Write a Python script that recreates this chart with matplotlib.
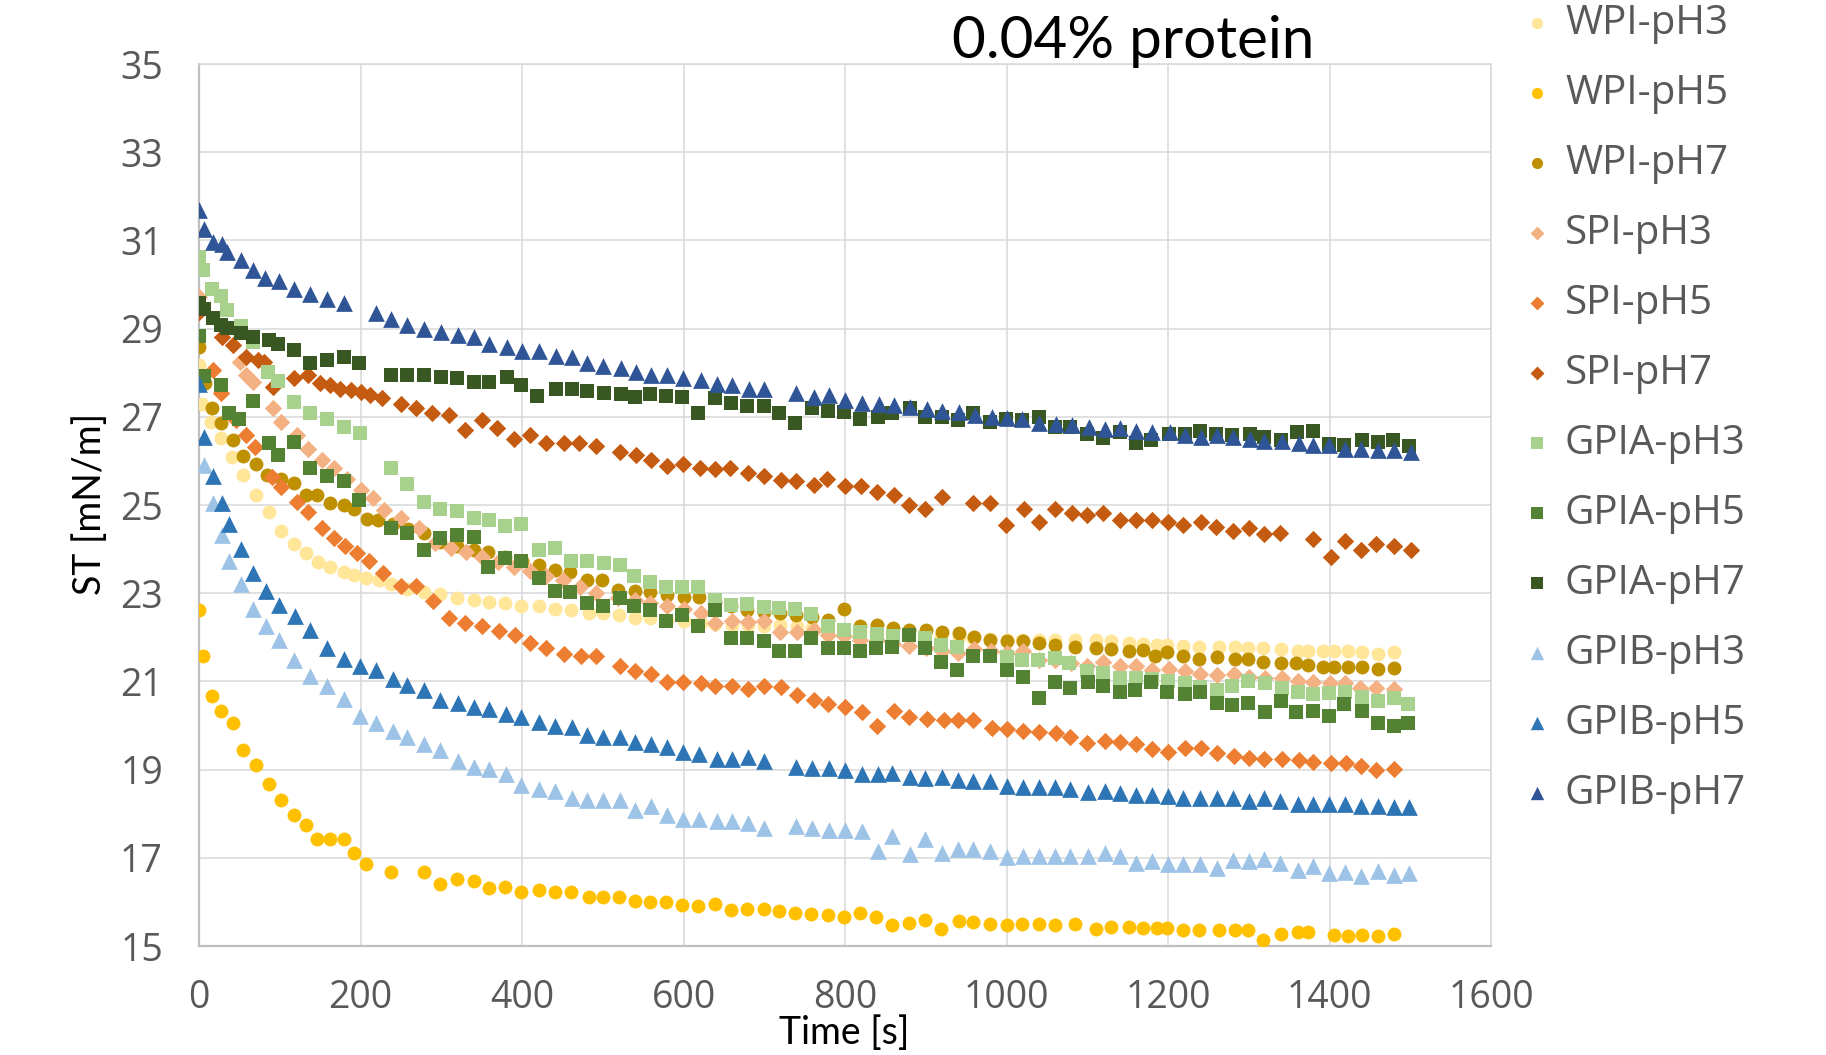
import matplotlib.pyplot as plt

plt.rcParams['font.family'] = ['Open Sans', 'DejaVu Sans']

# surface tension vs time, (time [s], ST [mN/m])
wpi_ph3 = [(0, 28.17), (4, 27.30), (15, 26.89), (27, 26.51), (41, 26.09), (55, 25.68), (71, 25.23), (87, 24.85),
           (102, 24.42), (117, 24.11), (133, 23.91), (147, 23.71), (162, 23.59), (179, 23.49), (192, 23.42),
           (207, 23.34), (223, 23.29), (238, 23.21), (258, 23.09), (279, 23.02), (299, 22.98), (320, 22.89),
           (340, 22.85), (359, 22.81), (379, 22.77), (399, 22.71), (421, 22.70), (441, 22.64), (460, 22.61),
           (483, 22.56), (500, 22.55), (520, 22.50), (540, 22.44), (559, 22.43), (579, 22.40), (600, 22.36),
           (621, 22.32), (639, 22.31), (660, 22.29), (680, 22.27), (699, 22.25), (720, 22.27), (741, 22.25),
           (759, 22.21), (779, 22.19), (799, 22.17), (819, 22.14), (838, 22.12), (858, 22.10), (879, 22.08),
           (899, 22.05), (919, 22.02), (941, 22.00), (959, 21.98), (979, 21.96), (1000, 21.95), (1019, 21.94),
           (1040, 21.94), (1060, 21.94), (1085, 21.94), (1111, 21.93), (1129, 21.91), (1151, 21.87),
           (1169, 21.85), (1186, 21.83), (1199, 21.83), (1218, 21.81), (1238, 21.79), (1263, 21.78),
           (1283, 21.78), (1299, 21.75), (1318, 21.75), (1340, 21.73), (1361, 21.70), (1373, 21.70),
           (1392, 21.68), (1406, 21.68), (1423, 21.68), (1440, 21.66), (1460, 21.63), (1480, 21.66)]

wpi_ph5 = [(0, 22.61), (5, 21.57), (16, 20.66), (27, 20.34), (42, 20.06), (55, 19.45), (71, 19.10), (87, 18.68),
           (102, 18.31), (117, 17.98), (132, 17.74), (146, 17.43), (162, 17.43), (179, 17.43), (192, 17.10),
           (207, 16.87), (238, 16.68), (279, 16.68), (298, 16.40), (320, 16.51), (340, 16.47), (359, 16.31),
           (379, 16.34), (399, 16.22), (421, 16.27), (441, 16.23), (460, 16.23), (483, 16.12), (500, 16.12),
           (520, 16.12), (540, 16.02), (559, 16.00), (578, 16.00), (598, 15.94), (618, 15.91), (639, 15.96),
           (659, 15.81), (679, 15.83), (699, 15.83), (718, 15.79), (738, 15.75), (758, 15.72), (779, 15.70),
           (799, 15.66), (819, 15.75), (838, 15.66), (858, 15.48), (879, 15.53), (899, 15.60), (919, 15.39),
           (941, 15.57), (959, 15.55), (979, 15.51), (1000, 15.47), (1019, 15.51), (1040, 15.51),
           (1060, 15.47), (1085, 15.49), (1111, 15.39), (1129, 15.43), (1151, 15.43), (1169, 15.40),
           (1186, 15.40), (1199, 15.40), (1218, 15.36), (1238, 15.36), (1263, 15.36), (1283, 15.36),
           (1299, 15.36), (1318, 15.13), (1340, 15.28), (1361, 15.31), (1373, 15.31), (1406, 15.26),
           (1423, 15.23), (1440, 15.26), (1460, 15.23), (1480, 15.28)]

wpi_ph7 = [(0, 28.58), (8, 27.77), (16, 27.19), (27, 26.85), (42, 26.47), (55, 26.11), (70, 25.94), (84, 25.68),
           (102, 25.58), (117, 25.51), (133, 25.23), (146, 25.23), (162, 25.04), (179, 25.00), (192, 24.90),
           (208, 24.68), (221, 24.66), (240, 24.58), (259, 24.45), (279, 24.36), (298, 24.17), (319, 24.07),
           (340, 23.98), (358, 23.94), (379, 23.83), (400, 23.72), (421, 23.64), (441, 23.53), (459, 23.47),
           (481, 23.30), (499, 23.30), (519, 23.08), (540, 23.04), (559, 23.02), (579, 22.96), (600, 22.92),
           (619, 22.92), (639, 22.80), (659, 22.70), (679, 22.62), (699, 22.58), (719, 22.55), (739, 22.51),
           (759, 22.45), (779, 22.40), (799, 22.64), (819, 22.25), (839, 22.28), (859, 22.22), (879, 22.17),
           (900, 22.17), (920, 22.12), (941, 22.10), (960, 22.00), (980, 21.93), (1000, 21.91), (1020, 21.91),
           (1040, 21.87), (1060, 21.83), (1085, 21.78), (1111, 21.75), (1129, 21.73), (1151, 21.70),
           (1169, 21.72), (1184, 21.57), (1199, 21.66), (1218, 21.57), (1238, 21.51), (1261, 21.55),
           (1283, 21.51), (1299, 21.51), (1318, 21.45), (1340, 21.42), (1359, 21.42), (1373, 21.38),
           (1392, 21.32), (1406, 21.32), (1423, 21.32), (1440, 21.32), (1460, 21.28), (1480, 21.30)]

spi_ph3 = [(0, 29.72), (51, 28.24), (58, 27.94), (67, 27.79), (92, 27.19), (102, 26.89), (121, 26.58),
           (135, 26.28), (152, 26.02), (167, 25.83), (183, 25.60), (200, 25.34), (215, 25.15), (229, 24.89),
           (250, 24.70), (272, 24.47), (292, 24.13), (312, 24.02), (331, 23.93), (350, 23.83), (370, 23.70),
           (390, 23.60), (410, 23.50), (430, 23.40), (451, 23.30), (472, 23.15), (492, 23.00), (519, 22.90),
           (540, 22.85), (559, 22.78), (579, 22.72), (600, 22.65), (621, 22.55), (639, 22.32), (660, 22.36),
           (680, 22.34), (700, 22.36), (720, 22.12), (740, 22.12), (761, 22.17), (779, 22.06), (799, 22.02),
           (819, 21.95), (839, 21.94), (859, 21.85), (879, 21.80), (900, 21.75), (920, 21.69), (940, 21.64),
           (960, 21.74), (981, 21.70), (1001, 21.64), (1020, 21.68), (1040, 21.49), (1060, 21.49),
           (1080, 21.42), (1100, 21.35), (1120, 21.45), (1141, 21.34), (1160, 21.34), (1180, 21.26),
           (1201, 21.28), (1221, 21.23), (1240, 21.17), (1261, 21.15), (1281, 21.17), (1300, 21.11),
           (1320, 21.08), (1341, 21.08), (1361, 21.02), (1380, 20.98), (1401, 20.96), (1419, 20.96),
           (1438, 20.85), (1458, 20.85), (1480, 20.83)]

spi_ph5 = [(17, 28.06), (27, 27.53), (46, 26.92), (58, 26.58), (69, 26.32), (90, 25.64), (101, 25.42),
           (121, 25.08), (135, 24.85), (152, 24.47), (167, 24.25), (181, 24.07), (196, 23.91), (211, 23.72),
           (228, 23.45), (250, 23.17), (269, 23.17), (290, 22.83), (309, 22.43), (329, 22.32), (350, 22.26),
           (371, 22.15), (391, 22.06), (410, 21.88), (430, 21.75), (452, 21.63), (473, 21.58), (492, 21.58),
           (521, 21.35), (540, 21.24), (560, 21.17), (580, 20.98), (599, 20.98), (621, 20.96), (639, 20.90),
           (660, 20.89), (680, 20.83), (700, 20.89), (721, 20.87), (740, 20.70), (761, 20.57), (779, 20.49),
           (800, 20.43), (821, 20.30), (839, 20.00), (860, 20.32), (879, 20.19), (901, 20.15), (922, 20.12),
           (940, 20.12), (959, 20.12), (982, 19.94), (1001, 19.91), (1020, 19.87), (1040, 19.85),
           (1061, 19.82), (1079, 19.75), (1100, 19.60), (1122, 19.64), (1141, 19.62), (1160, 19.57),
           (1180, 19.47), (1200, 19.39), (1221, 19.49), (1241, 19.49), (1261, 19.38), (1281, 19.32),
           (1300, 19.26), (1319, 19.24), (1341, 19.23), (1362, 19.21), (1380, 19.17), (1402, 19.14),
           (1420, 19.14), (1439, 19.09), (1458, 19.00), (1480, 19.02)]

spi_ph7 = [(0, 29.38), (28, 28.81), (42, 28.62), (58, 28.36), (73, 28.28), (81, 28.25), (92, 27.68), (117, 27.87),
           (135, 27.94), (150, 27.77), (162, 27.72), (175, 27.64), (188, 27.60), (200, 27.57), (212, 27.49),
           (227, 27.42), (250, 27.30), (269, 27.19), (288, 27.09), (309, 27.04), (329, 26.71), (351, 26.92),
           (369, 26.74), (390, 26.49), (410, 26.58), (430, 26.41), (452, 26.41), (471, 26.41), (492, 26.34),
           (521, 26.21), (541, 26.13), (560, 26.02), (580, 25.88), (599, 25.93), (620, 25.85), (639, 25.81),
           (658, 25.85), (680, 25.72), (700, 25.66), (721, 25.57), (739, 25.55), (761, 25.45), (778, 25.58),
           (800, 25.43), (820, 25.43), (839, 25.30), (860, 25.23), (879, 25.00), (899, 24.92), (920, 25.19),
           (959, 25.05), (980, 25.05), (999, 24.55), (1021, 24.92), (1040, 24.62), (1060, 24.90),
           (1081, 24.83), (1100, 24.77), (1119, 24.83), (1141, 24.66), (1160, 24.66), (1180, 24.66),
           (1200, 24.62), (1219, 24.55), (1241, 24.62), (1259, 24.51), (1280, 24.40), (1300, 24.47),
           (1319, 24.34), (1339, 24.36), (1380, 24.22), (1402, 23.83), (1419, 24.19), (1439, 23.98),
           (1458, 24.12), (1480, 24.07), (1501, 23.97)]

gpia_ph3 = [(0, 30.62), (5, 30.32), (16, 29.91), (27, 29.73), (35, 29.43), (52, 29.05), (67, 28.70), (85, 28.02),
            (98, 27.82), (117, 27.34), (137, 27.09), (158, 26.96), (179, 26.76), (199, 26.64), (238, 25.83),
            (258, 25.48), (278, 25.08), (299, 24.92), (319, 24.87), (340, 24.70), (359, 24.65), (379, 24.52),
            (399, 24.57), (421, 23.97), (441, 24.02), (460, 23.74), (480, 23.74), (502, 23.68), (521, 23.64),
            (539, 23.38), (559, 23.26), (578, 23.15), (598, 23.14), (618, 23.14), (639, 22.85), (659, 22.74),
            (679, 22.76), (699, 22.68), (718, 22.66), (738, 22.64), (758, 22.53), (779, 22.26), (799, 22.17),
            (819, 22.13), (839, 22.08), (859, 22.03), (899, 21.98), (919, 21.83), (939, 21.79), (1000, 21.55),
            (1019, 21.49), (1039, 21.49), (1060, 21.53), (1077, 21.42), (1100, 21.23), (1120, 21.19),
            (1141, 21.08), (1160, 21.08), (1180, 21.06), (1200, 21.00), (1221, 20.96), (1240, 20.88),
            (1261, 20.80), (1279, 20.90), (1299, 21.02), (1320, 20.96), (1341, 20.85), (1361, 20.77),
            (1380, 20.72), (1399, 20.74), (1419, 20.75), (1440, 20.65), (1460, 20.55), (1480, 20.62),
            (1497, 20.49)]

gpia_ph5 = [(0, 28.83), (6, 27.92), (27, 27.72), (37, 27.08), (50, 26.94), (67, 27.36), (87, 26.40), (98, 26.13),
            (117, 26.43), (137, 25.85), (158, 25.66), (179, 25.55), (198, 25.11), (238, 24.49), (258, 24.37),
            (278, 23.98), (298, 24.25), (319, 24.32), (340, 24.28), (358, 23.60), (379, 23.79), (399, 23.72),
            (421, 23.34), (441, 23.06), (459, 23.02), (480, 22.77), (500, 22.70), (521, 22.89), (539, 22.70),
            (559, 22.62), (578, 22.38), (598, 22.51), (618, 22.26), (639, 22.62), (659, 21.98), (679, 21.98),
            (699, 21.91), (718, 21.70), (738, 21.70), (758, 21.98), (779, 21.75), (799, 21.75), (819, 21.70),
            (838, 21.75), (858, 21.79), (879, 22.06), (899, 21.75), (919, 21.43), (939, 21.26), (959, 21.58),
            (979, 21.58), (1000, 21.26), (1020, 21.10), (1040, 20.62), (1060, 20.98), (1079, 20.85),
            (1101, 20.98), (1120, 20.90), (1140, 20.75), (1159, 20.80), (1179, 20.98), (1199, 20.75),
            (1221, 20.72), (1240, 20.75), (1261, 20.51), (1279, 20.47), (1299, 20.51), (1320, 20.30),
            (1340, 20.55), (1359, 20.30), (1380, 20.34), (1399, 20.22), (1418, 20.49), (1440, 20.34),
            (1460, 20.06), (1480, 20.00), (1497, 20.06)]

gpia_ph7 = [(0, 29.58), (6, 29.45), (17, 29.23), (27, 29.08), (35, 29.02), (52, 28.90), (67, 28.81), (87, 28.74),
            (98, 28.65), (117, 28.51), (137, 28.21), (158, 28.28), (179, 28.36), (198, 28.22), (238, 27.94),
            (258, 27.94), (278, 27.94), (300, 27.91), (320, 27.87), (340, 27.79), (359, 27.79), (381, 27.91),
            (399, 27.72), (419, 27.47), (442, 27.62), (462, 27.62), (480, 27.59), (502, 27.55), (522, 27.51),
            (540, 27.45), (559, 27.51), (578, 27.47), (598, 27.44), (618, 27.08), (639, 27.42), (659, 27.32),
            (679, 27.24), (699, 27.24), (718, 27.08), (738, 26.85), (759, 27.19), (779, 27.13), (799, 27.11),
            (819, 26.96), (841, 27.00), (858, 27.09), (881, 27.19), (899, 27.00), (920, 27.00), (940, 26.92),
            (959, 27.09), (980, 26.89), (999, 26.96), (1019, 26.92), (1040, 27.00), (1060, 26.76),
            (1079, 26.76), (1100, 26.62), (1120, 26.53), (1141, 26.66), (1160, 26.40), (1179, 26.47),
            (1201, 26.61), (1221, 26.62), (1240, 26.68), (1259, 26.62), (1279, 26.58), (1301, 26.62),
            (1319, 26.55), (1340, 26.47), (1360, 26.66), (1379, 26.68), (1399, 26.38), (1418, 26.36),
            (1440, 26.47), (1460, 26.43), (1479, 26.47), (1498, 26.34)]

gpib_ph3 = [(6, 25.91), (17, 25.04), (28, 24.32), (37, 23.73), (52, 23.21), (67, 22.64), (83, 22.26), (99, 21.94),
            (117, 21.48), (138, 21.13), (158, 20.89), (179, 20.60), (199, 20.22), (219, 20.06), (240, 19.87),
            (258, 19.75), (278, 19.59), (299, 19.44), (321, 19.19), (341, 19.06), (359, 19.02), (380, 18.91),
            (399, 18.66), (421, 18.56), (441, 18.51), (462, 18.36), (481, 18.32), (500, 18.32), (521, 18.32),
            (540, 18.08), (560, 18.17), (580, 17.98), (599, 17.88), (619, 17.88), (641, 17.83), (660, 17.83),
            (680, 17.79), (700, 17.68), (739, 17.73), (759, 17.68), (780, 17.64), (800, 17.64), (821, 17.60),
            (841, 17.15), (858, 17.49), (881, 17.08), (899, 17.42), (920, 17.11), (940, 17.19), (959, 17.19),
            (979, 17.15), (1001, 17.02), (1020, 17.05), (1040, 17.05), (1060, 17.05), (1079, 17.05),
            (1101, 17.05), (1122, 17.10), (1141, 17.05), (1160, 16.89), (1180, 16.92), (1200, 16.87),
            (1219, 16.85), (1240, 16.85), (1261, 16.77), (1280, 16.96), (1300, 16.92), (1319, 16.98),
            (1339, 16.89), (1361, 16.72), (1380, 16.81), (1399, 16.66), (1419, 16.67), (1439, 16.58),
            (1460, 16.70), (1480, 16.62), (1498, 16.66)]

gpib_ph5 = [(0, 27.75), (6, 26.55), (17, 25.66), (28, 25.04), (37, 24.58), (52, 24.00), (67, 23.45), (83, 23.04),
            (99, 22.74), (119, 22.49), (138, 22.17), (158, 21.75), (179, 21.51), (199, 21.35), (219, 21.26),
            (240, 21.05), (258, 20.92), (278, 20.80), (299, 20.58), (321, 20.52), (341, 20.42), (359, 20.38),
            (380, 20.27), (399, 20.19), (421, 20.09), (441, 20.00), (462, 19.97), (481, 19.79), (500, 19.75),
            (521, 19.75), (540, 19.63), (560, 19.57), (580, 19.51), (599, 19.39), (619, 19.36), (641, 19.23),
            (660, 19.23), (680, 19.29), (700, 19.19), (739, 19.06), (759, 19.04), (780, 19.04), (800, 19.00),
            (821, 18.89), (841, 18.89), (858, 18.92), (881, 18.83), (899, 18.80), (920, 18.83), (940, 18.77),
            (959, 18.74), (979, 18.74), (1001, 18.62), (1020, 18.60), (1040, 18.60), (1060, 18.60),
            (1079, 18.56), (1101, 18.49), (1122, 18.52), (1141, 18.47), (1160, 18.43), (1180, 18.43),
            (1200, 18.40), (1219, 18.36), (1240, 18.36), (1261, 18.36), (1280, 18.36), (1300, 18.28),
            (1319, 18.36), (1339, 18.28), (1361, 18.22), (1380, 18.22), (1399, 18.22), (1419, 18.22),
            (1439, 18.17), (1460, 18.17), (1480, 18.15), (1498, 18.15)]

gpib_ph7 = [(0, 31.69), (6, 31.26), (17, 30.96), (28, 30.92), (35, 30.74), (52, 30.55), (67, 30.34), (82, 30.15),
            (99, 30.08), (117, 29.91), (137, 29.79), (158, 29.68), (180, 29.57), (219, 29.35), (238, 29.21),
            (258, 29.08), (278, 29.00), (300, 28.92), (321, 28.85), (340, 28.81), (359, 28.65), (381, 28.58),
            (400, 28.49), (421, 28.49), (442, 28.37), (462, 28.36), (481, 28.21), (500, 28.15), (522, 28.10),
            (541, 28.02), (560, 27.94), (580, 27.94), (599, 27.89), (622, 27.83), (641, 27.75), (660, 27.73),
            (681, 27.62), (700, 27.62), (739, 27.53), (761, 27.45), (780, 27.49), (800, 27.38), (821, 27.32),
            (842, 27.30), (861, 27.26), (881, 27.23), (901, 27.17), (920, 27.14), (941, 27.11), (961, 27.04),
            (982, 27.00), (1001, 26.98), (1019, 26.94), (1040, 26.85), (1061, 26.83), (1081, 26.81),
            (1102, 26.76), (1122, 26.72), (1141, 26.74), (1160, 26.68), (1180, 26.65), (1202, 26.66),
            (1221, 26.58), (1241, 26.55), (1261, 26.58), (1280, 26.55), (1301, 26.49), (1319, 26.46),
            (1341, 26.46), (1362, 26.40), (1380, 26.36), (1399, 26.36), (1419, 26.28), (1439, 26.28),
            (1460, 26.25), (1480, 26.25), (1501, 26.21)]

series = [wpi_ph3, wpi_ph5, wpi_ph7, spi_ph3, spi_ph5, spi_ph7,
          gpia_ph3, gpia_ph5, gpia_ph7, gpib_ph3, gpib_ph5, gpib_ph7]
labels = ['WPI-pH3', 'WPI-pH5', 'WPI-pH7', 'SPI-pH3', 'SPI-pH5', 'SPI-pH7',
          'GPIA-pH3', 'GPIA-pH5', 'GPIA-pH7', 'GPIB-pH3', 'GPIB-pH5', 'GPIB-pH7']
colors = ['#FFE699', '#FFC000', '#BF9000', '#F4B183', '#ED7D31', '#C55A11',
          '#A9D18E', '#548235', '#385723', '#9DC3E6', '#2E75B6', '#2F5597']
markers = ['o', 'o', 'o', 'D', 'D', 'D', 's', 's', 's', '^', '^', '^']
sizes = [100, 100, 100, 78, 78, 78, 112, 112, 112, 145, 145, 145]

fig = plt.figure(figsize=(18.26, 10.55), dpi=100)
ax = fig.add_axes([0.109, 0.1033, 0.7076, 0.836])

for data, lab, c, m, s in zip(series, labels, colors, markers, sizes):
    t = [p[0] for p in data]
    st = [p[1] for p in data]
    ax.scatter(t, st, s=s, c=c, marker=m, label=lab, linewidths=0, zorder=3)

ax.set_xlim(0, 1600)
ax.set_ylim(15, 35)
ax.set_xticks(range(0, 1601, 200))
ax.set_yticks(range(15, 36, 2))
ax.grid(color='#D9D9D9', linewidth=1.1)
ax.set_axisbelow(True)
for side in ['top', 'right']:
    ax.spines[side].set_color('#D9D9D9')
    ax.spines[side].set_linewidth(1.1)
for side in ['left', 'bottom']:
    ax.spines[side].set_color('#BFBFBF')
    ax.spines[side].set_linewidth(1.6)
ax.tick_params(axis='both', length=0, labelsize=27, labelcolor='#595959')
ax.tick_params(axis='x', pad=24)
ax.tick_params(axis='y', pad=26)

ax.set_xlabel('Time [s]', fontsize=27, family='Lato', va='center')
ax.xaxis.set_label_coords(0.499, -0.0985)
ax.set_ylabel('ST [mN/m]', fontsize=27, family='Lato', va='center')
ax.yaxis.set_label_coords(-0.0844, 0.501)

fig.text(0.6205, 0.961, '0.04% protein', fontsize=42, family='Lato', ha='center', va='center')

leg = fig.legend(loc='upper left', bbox_to_anchor=(0.8328, 0.997), frameon=False,
                 prop={'size': 29}, labelspacing=0.733, handlelength=0.8, handletextpad=0.3,
                 borderpad=0, borderaxespad=0, markerscale=0.8)
for txt in leg.get_texts():
    txt.set_color('#595959')

plt.savefig('out.png', dpi=100)
